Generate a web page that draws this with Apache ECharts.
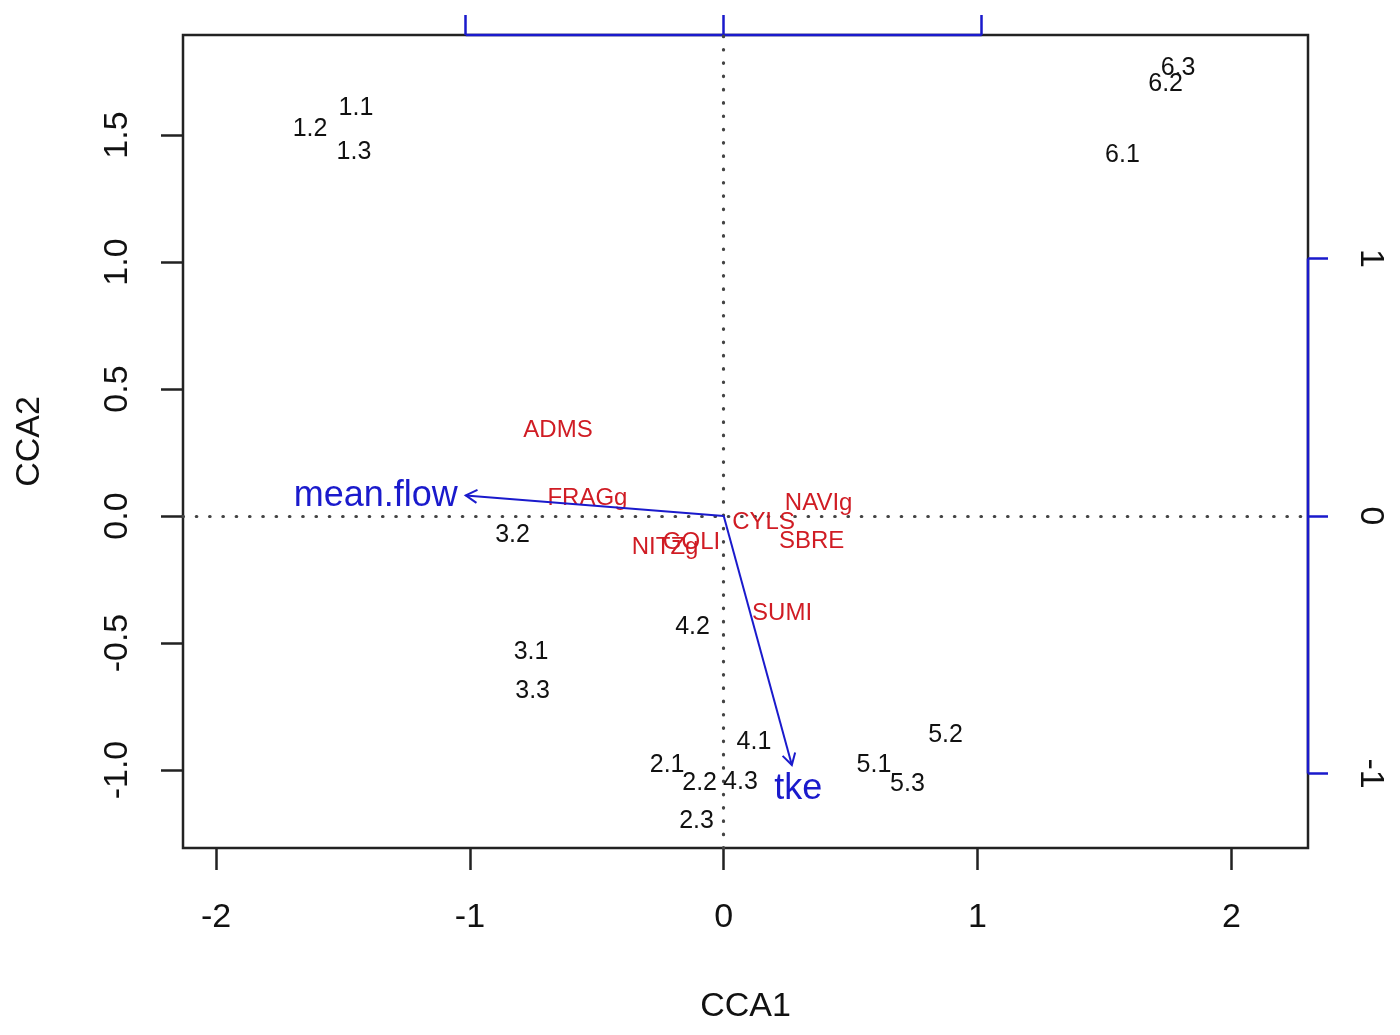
<!DOCTYPE html>
<html>
<head>
<meta charset="utf-8">
<title>CCA biplot</title>
<script src="https://cdn.jsdelivr.net/npm/echarts@6/dist/echarts.min.js"></script>
<style>
  html, body { margin: 0; padding: 0; background: #fff; }
  #chart { width: 1400px; height: 1035px; }
</style>
</head>
<body>
<div id="chart"></div>
<script>
// site scores (CCA1, CCA2)
const siteNames = ['1.1', '1.2', '1.3', '2.1', '2.2', '2.3', '3.1', '3.2', '3.3',
  '4.1', '4.2', '4.3', '5.1', '5.2', '5.3', '6.1', '6.2', '6.3'];
const siteX = [-1.449, -1.630, -1.457, -0.223, -0.095, -0.107, -0.759, -0.832, -0.753,
  0.119, -0.123, 0.066, 0.592, 0.874, 0.724, 1.571, 1.741, 1.790];
const siteY = [1.614, 1.533, 1.441, -0.974, -1.043, -1.193, -0.528, -0.069, -0.683,
  -0.882, -0.429, -1.039, -0.974, -0.856, -1.049, 1.429, 1.707, 1.770];

// species scores
const speciesNames = ['ADMS', 'FRAGg', 'NAVIg', 'CYLS', 'SBRE', 'GOLI', 'NITZg', 'SUMI'];
const speciesX = [-0.653, -0.537, 0.374, 0.157, 0.346, -0.127, -0.231, 0.230];
const speciesY = [0.344, 0.077, 0.057, -0.016, -0.093, -0.094, -0.114, -0.374];

// environmental arrows, in biplot (top / right axis) units
const envNames = ['mean.flow', 'tke'];
const envX = [-1.000, 0.264];
const envY = [0.080, -0.967];
const envLabelX = [-1.349, 0.289];
const envLabelY = [0.085, -1.054];

// ticks
const mainTicksX = [-2, -1, 0, 1, 2];
const mainTicksY = [-1, -0.5, 0, 0.5, 1, 1.5];
const biplotTicks = [-1, 0, 1];

// axis extents (R plot region)
const mainRangeX = [-2.1305, 2.302];
const mainRangeY = [-1.307, 1.894];
const mulX = 1.0165, mulY = 1.0138;
const biplotRangeX = [mainRangeX[0] / mulX, mainRangeX[1] / mulX];
const biplotRangeY = [mainRangeY[0] / mulY, mainRangeY[1] / mulY];

const FONT = 'Liberation Sans, Arial, sans-serif';
const INK = '#111111';
const RED = '#d01c24';
const BLUE = '#1a1acc';

const chart = echarts.init(document.getElementById('chart'));

const textSeries = (names, xs, ys, color, size, xi, yi) => ({
  type: 'scatter',
  xAxisIndex: xi,
  yAxisIndex: yi,
  symbolSize: 1,
  itemStyle: { color: 'rgba(0,0,0,0)', opacity: 1 },
  silent: true,
  z: 5,
  data: names.map((n, i) => ({ name: n, value: [xs[i], ys[i]] })),
  label: {
    show: true,
    position: 'inside',
    offset: [0, 2],
    formatter: '{b}',
    color: color,
    fontSize: size,
    fontFamily: FONT
  }
});

const option = {
  animation: false,
  backgroundColor: '#fff',
  grid: {
    left: 183, right: 92, top: 35, bottom: 187,
    show: true, borderColor: '#222', borderWidth: 2.5, backgroundColor: 'transparent'
  },
  xAxis: [
    {
      type: 'value', position: 'bottom',
      min: mainRangeX[0], max: mainRangeX[1],
      name: 'CCA1', nameLocation: 'middle', nameGap: 142,
      nameTextStyle: { fontSize: 34, color: INK, fontFamily: FONT },
      axisLine: { show: false, onZero: false },
      splitLine: { show: false },
      axisTick: { show: true, customValues: mainTicksX, length: 22, lineStyle: { color: '#222', width: 2.5 } },
      axisLabel: { customValues: mainTicksX, fontSize: 34, color: INK, fontFamily: FONT, margin: 53 }
    },
    {
      type: 'value', position: 'top',
      min: biplotRangeX[0], max: biplotRangeX[1],
      axisLine: { show: false, onZero: false },
      splitLine: { show: false },
      axisTick: { show: true, customValues: biplotTicks, length: 20, lineStyle: { color: BLUE, width: 2.5 } },
      axisLabel: { show: false }
    }
  ],
  yAxis: [
    {
      type: 'value', position: 'left',
      min: mainRangeY[0], max: mainRangeY[1],
      name: 'CCA2', nameLocation: 'middle', nameGap: 136, nameRotate: 90,
      nameTextStyle: { fontSize: 34, color: INK, fontFamily: FONT },
      axisLine: { show: false, onZero: false },
      splitLine: { show: false },
      axisTick: { show: true, customValues: mainTicksY, length: 22, lineStyle: { color: '#222', width: 2.5 } },
      axisLabel: {
        customValues: mainTicksY, rotate: 90, fontSize: 34, color: INK, fontFamily: FONT, margin: 48,
        formatter: v => v.toFixed(1)
      }
    },
    {
      type: 'value', position: 'right',
      min: biplotRangeY[0], max: biplotRangeY[1],
      axisLine: { show: false, onZero: false },
      splitLine: { show: false },
      axisTick: { show: true, customValues: biplotTicks, length: 20, lineStyle: { color: BLUE, width: 2.5 } },
      axisLabel: { customValues: biplotTicks, rotate: -90, fontSize: 34, color: INK, fontFamily: FONT, margin: 45 }
    }
  ],
  series: [
    // dotted zero lines
    {
      type: 'scatter', xAxisIndex: 0, yAxisIndex: 0, data: [], silent: true, z: 1,
      markLine: {
        silent: true, symbol: 'none', label: { show: false },
        lineStyle: { color: '#444', width: 3.2, type: [0.5, 12.8], cap: 'round', opacity: 1 },
        data: [{ xAxis: 0 }, { yAxis: 0 }]
      }
    },
    // blue biplot axis lines (top and right)
    {
      type: 'line', xAxisIndex: 1, yAxisIndex: 1, clip: false, symbol: 'none', silent: true, z: 3,
      lineStyle: { color: BLUE, width: 2.5 },
      data: [[biplotTicks[0], biplotRangeY[1]], [biplotTicks[biplotTicks.length - 1], biplotRangeY[1]]]
    },
    {
      type: 'line', xAxisIndex: 1, yAxisIndex: 1, clip: false, symbol: 'none', silent: true, z: 3,
      lineStyle: { color: BLUE, width: 2.5 },
      data: [[biplotRangeX[1], biplotTicks[0]], [biplotRangeX[1], biplotTicks[biplotTicks.length - 1]]]
    },
    textSeries(siteNames, siteX, siteY, INK, 25, 0, 0),
    textSeries(speciesNames, speciesX, speciesY, RED, 24, 0, 0),
    // arrows
    {
      type: 'custom', xAxisIndex: 1, yAxisIndex: 1, silent: true, z: 6,
      data: envNames.map((n, i) => [envX[i], envY[i]]),
      renderItem: (params, api) => {
        const o = api.coord([0, 0]);
        const e = api.coord([api.value(0), api.value(1)]);
        const ang = Math.atan2(e[1] - o[1], e[0] - o[0]);
        const L = 13, a = Math.PI / 6;
        const h1 = [e[0] - L * Math.cos(ang - a), e[1] - L * Math.sin(ang - a)];
        const h2 = [e[0] - L * Math.cos(ang + a), e[1] - L * Math.sin(ang + a)];
        return {
          type: 'group',
          children: [
            { type: 'line', shape: { x1: o[0], y1: o[1], x2: e[0], y2: e[1] }, style: { stroke: BLUE, lineWidth: 2 } },
            { type: 'polyline', shape: { points: [h1, e, h2] }, style: { stroke: BLUE, lineWidth: 2, fill: null } }
          ]
        };
      }
    },
    textSeries(envNames, envLabelX, envLabelY, BLUE, 36, 1, 1)
  ]
};

chart.setOption(option);
</script>
</body>
</html>
